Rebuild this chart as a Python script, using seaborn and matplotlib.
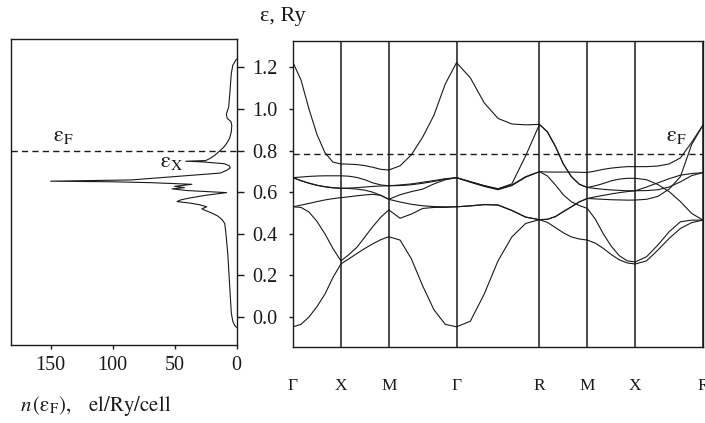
import numpy as np
import pandas as pd
import matplotlib
matplotlib.use("Agg")
import matplotlib.pyplot as plt
import seaborn as sns

# ---------------- data ----------------
k_labels = ["Γ", "X", "M", "Γ", "R", "M", "X", "R"]
k_nodes = [0.0, 0.5, 1.0, 1.707, 2.573, 3.073, 3.573, 4.280]

# energies (Ry) of the 7 bands, 7 samples along each path segment
seg_GX = [
    [-0.047, -0.035, 0.0, 0.05, 0.11, 0.19, 0.255],
    [0.53, 0.527, 0.505, 0.46, 0.40, 0.33, 0.27],
    [0.53, 0.538, 0.546, 0.555, 0.563, 0.569, 0.574],
    [0.67, 0.655, 0.643, 0.633, 0.626, 0.621, 0.619],
    [0.67, 0.656, 0.644, 0.634, 0.627, 0.622, 0.619],
    [0.67, 0.673, 0.676, 0.678, 0.679, 0.679, 0.679],
    [1.223, 1.14, 1.0, 0.878, 0.79, 0.745, 0.736],
]
seg_XM = [
    [0.255, 0.28, 0.305, 0.33, 0.352, 0.372, 0.386],
    [0.27, 0.30, 0.335, 0.385, 0.435, 0.48, 0.515],
    [0.574, 0.578, 0.583, 0.587, 0.59, 0.585, 0.566],
    [0.619, 0.618, 0.615, 0.61, 0.60, 0.585, 0.566],
    [0.619, 0.62, 0.622, 0.625, 0.628, 0.63, 0.631],
    [0.679, 0.677, 0.671, 0.66, 0.645, 0.635, 0.631],
    [0.736, 0.735, 0.733, 0.728, 0.72, 0.71, 0.707],
]
seg_MG = [
    [0.386, 0.37, 0.28, 0.15, 0.035, -0.035, -0.047],
    [0.515, 0.475, 0.495, 0.522, 0.527, 0.527, 0.53],
    [0.566, 0.553, 0.542, 0.535, 0.531, 0.53, 0.53],
    [0.566, 0.588, 0.603, 0.615, 0.64, 0.66, 0.67],
    [0.631, 0.632, 0.636, 0.643, 0.652, 0.662, 0.67],
    [0.631, 0.635, 0.64, 0.648, 0.656, 0.665, 0.67],
    [0.707, 0.727, 0.78, 0.865, 0.97, 1.12, 1.223],
]
seg_GR = [
    [-0.047, -0.02, 0.11, 0.27, 0.385, 0.45, 0.468],
    [0.53, 0.534, 0.54, 0.538, 0.512, 0.48, 0.468],
    [0.53, 0.535, 0.541, 0.539, 0.513, 0.481, 0.468],
    [0.67, 0.648, 0.628, 0.612, 0.632, 0.672, 0.699],
    [0.67, 0.65, 0.631, 0.615, 0.635, 0.675, 0.699],
    [0.67, 0.651, 0.632, 0.617, 0.64, 0.775, 0.926],
    [1.223, 1.15, 1.03, 0.955, 0.928, 0.924, 0.926],
]
seg_RM = [
    [0.468, 0.455, 0.43, 0.405, 0.385, 0.375, 0.37],
    [0.468, 0.47, 0.483, 0.507, 0.53, 0.554, 0.57],
    [0.468, 0.47, 0.483, 0.507, 0.53, 0.554, 0.57],
    [0.699, 0.678, 0.635, 0.587, 0.554, 0.536, 0.522],
    [0.699, 0.697, 0.697, 0.697, 0.697, 0.696, 0.695],
    [0.926, 0.89, 0.82, 0.735, 0.675, 0.638, 0.623],
    [0.926, 0.89, 0.82, 0.735, 0.675, 0.638, 0.623],
]
seg_MX = [
    [0.37, 0.355, 0.33, 0.30, 0.275, 0.26, 0.255],
    [0.522, 0.47, 0.40, 0.34, 0.295, 0.27, 0.265],
    [0.57, 0.568, 0.566, 0.564, 0.563, 0.562, 0.5625],
    [0.57, 0.578, 0.585, 0.592, 0.598, 0.603, 0.607],
    [0.623, 0.618, 0.614, 0.611, 0.609, 0.607, 0.607],
    [0.623, 0.631, 0.642, 0.655, 0.663, 0.667, 0.667],
    [0.695, 0.702, 0.71, 0.716, 0.72, 0.723, 0.723],
]
seg_XR = [
    [0.255, 0.27, 0.322, 0.378, 0.426, 0.454, 0.466],
    [0.265, 0.29, 0.346, 0.41, 0.458, 0.466, 0.466],
    [0.5625, 0.566, 0.58, 0.615, 0.675, 0.83, 0.923],
    [0.607, 0.608, 0.612, 0.625, 0.65, 0.68, 0.694],
    [0.607, 0.625, 0.645, 0.665, 0.682, 0.69, 0.694],
    [0.667, 0.66, 0.637, 0.603, 0.555, 0.498, 0.466],
    [0.723, 0.723, 0.726, 0.736, 0.765, 0.84, 0.923],
]
segments = [seg_GX, seg_XM, seg_MG, seg_GR, seg_RM, seg_MX, seg_XR]

# density of states n(E), el/Ry/cell
dos_E = [1.24, 1.225, 1.21, 1.17, 1.09, 1.01, 0.975, 0.955, 0.94, 0.92, 0.89, 0.86,
         0.835, 0.815, 0.80, 0.775, 0.76, 0.752, 0.749, 0.746, 0.742, 0.737, 0.728,
         0.717, 0.705, 0.692, 0.675, 0.659, 0.653, 0.650, 0.646, 0.638, 0.628, 0.622,
         0.616, 0.608, 0.598, 0.585, 0.572, 0.563, 0.555, 0.548, 0.54, 0.53, 0.52,
         0.512, 0.50, 0.485, 0.47, 0.45, 0.40, 0.30, 0.20, 0.10, 0.02, -0.02, -0.04, -0.05]
dos_n = [0, 1.5, 3, 4.2, 5.2, 6.3, 8.2, 7.5, 4.5, 3.8, 4.2, 5.5,
         7.9, 10.5, 13.3, 18, 22, 25, 41, 28, 20, 10, 6,
         5, 8, 13, 50, 85, 150, 100, 70, 36, 50, 42,
         52, 40, 8, 25, 38, 45, 48, 38, 30, 24, 28,
         25, 20, 15, 12, 9.5, 8.5, 7, 6, 5, 4.2, 3, 1.5, 0]

E_fermi_dos = 0.80
E_fermi_bands = 0.785
e_ticks = [0.0, 0.2, 0.4, 0.6, 0.8, 1.0, 1.2]
n_ticks = [150, 100, 50, 0]

# ---------------- tables ----------------
rows = []
for si, seg in enumerate(segments):
    ks = np.linspace(k_nodes[si], k_nodes[si + 1], len(seg[0]))
    for bi, band in enumerate(seg):
        for kk, ee in zip(ks, band):
            rows.append({"k": kk, "E": ee, "line": si * 10 + bi})
df_bands = pd.DataFrame(rows)
df_dos = pd.DataFrame({"n": dos_n, "E": dos_E})

# ---------------- style ----------------
sns.set_style("white")
plt.rcParams["font.family"] = ["Liberation Serif", "DejaVu Serif"]
plt.rcParams["mathtext.fontset"] = "stix"
ink = "#1a1a1a"

W, H = 705, 423
fig = plt.figure(figsize=(W / 100, H / 100), dpi=100)
ax_d = fig.add_axes([11 / W, 78 / H, 225.5 / W, 306 / H])
ax_b = fig.add_axes([293 / W, 76 / H, 410 / W, 306 / H])

# DOS panel
sns.lineplot(data=df_dos, x="n", y="E", sort=False, estimator=None,
             color=ink, lw=0.8, ax=ax_d)
ax_d.axhline(E_fermi_dos, color=ink, lw=1.0, ls=(0, (4.5, 3)))
ax_d.set_xlim(182, 0)
ax_d.set_ylim(-0.1346, 1.3365)
ax_d.set_xticks(n_ticks)
ax_d.set_xticklabels([str(v) for v in n_ticks])
ax_d.yaxis.tick_right()
ax_d.set_yticks(e_ticks)
ax_d.set_yticklabels([f"{v:.1f}" for v in e_ticks])
ax_d.tick_params(axis="y", which="both", right=True, left=False, direction="out",
                 length=5, width=1, pad=6, labelsize=14.5, colors=ink)
ax_d.tick_params(axis="x", bottom=True, direction="out", length=3, width=1,
                 pad=5, labelsize=14.5, colors=ink)
ax_d.set_xlabel("")
ax_d.set_ylabel("")

# band structure panel
sns.lineplot(data=df_bands, x="k", y="E", units="line", estimator=None, sort=False,
             color=ink, lw=0.8, ax=ax_b)
for kn in k_nodes:
    ax_b.axvline(kn, color=ink, lw=1.1)
ax_b.axhline(E_fermi_bands, color=ink, lw=1.0, ls=(0, (4.5, 3)))
ax_b.set_xlim(k_nodes[0], k_nodes[-1])
ax_b.set_ylim(-0.144, 1.327)
ax_b.set_xticks(k_nodes)
ax_b.set_xticklabels(k_labels)
ax_b.set_yticks(e_ticks)
ax_b.set_yticklabels([])
ax_b.tick_params(axis="x", bottom=True, length=0, pad=22, labelsize=12.5, colors=ink)
ax_b.tick_params(axis="y", left=True, direction="out", length=3, width=1, colors=ink)
ax_b.set_xlabel("")
ax_b.set_ylabel("")

for ax in (ax_d, ax_b):
    for s in ax.spines.values():
        s.set_visible(True)
        s.set_color(ink)
        s.set_linewidth(1.0)

# texts
fig.text(283 / W, 1 - 16 / H, "ε, Ry", ha="center", va="center",
         fontsize=16, color=ink)
fig.text(20 / W, 1 - 406 / H,
         r"$n\,(\mathrm{ε}_{\mathrm{F}}),\quad \mathrm{el/Ry/cell}$",
         ha="left", va="center", fontsize=15, color=ink)
ax_d.text(63 / W, 1 - 136 / H, r"$\mathrm{ε}_{\mathrm{F}}$", transform=fig.transFigure,
          ha="center", va="center", fontsize=16, color=ink)
ax_d.text(172 / W, 1 - 162 / H, r"$\mathrm{ε}_{\mathrm{X}}$", transform=fig.transFigure,
          ha="center", va="center", fontsize=16, color=ink)
ax_b.text(676 / W, 1 - 137 / H, r"$\mathrm{ε}_{\mathrm{F}}$", transform=fig.transFigure,
          ha="center", va="center", fontsize=16, color=ink)

fig.savefig("out.png", dpi=100)
